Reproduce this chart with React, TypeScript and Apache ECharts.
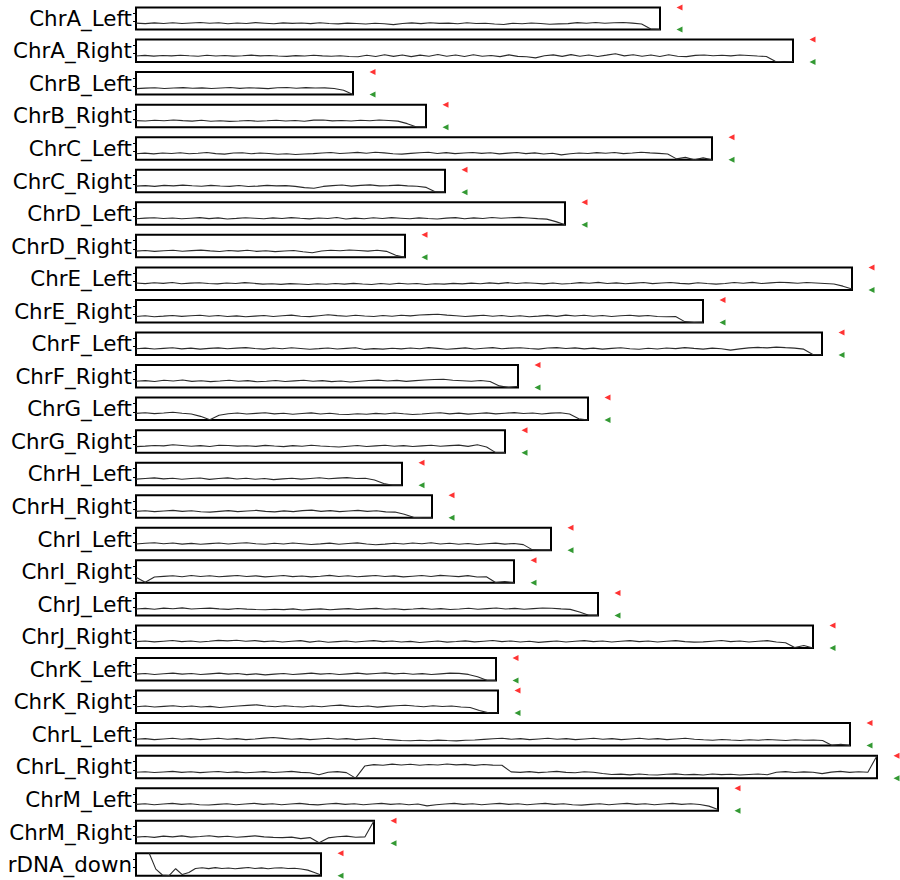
import React, { useEffect, useRef } from "react";
import * as echarts from "echarts";

// Row labels (top to bottom)
const labels = [
  "ChrA_Left", "ChrA_Right", "ChrB_Left", "ChrB_Right", "ChrC_Left", "ChrC_Right",
  "ChrD_Left", "ChrD_Right", "ChrE_Left", "ChrE_Right", "ChrF_Left", "ChrF_Right",
  "ChrG_Left", "ChrG_Right", "ChrH_Left", "ChrH_Right", "ChrI_Left", "ChrI_Right",
  "ChrJ_Left", "ChrJ_Right", "ChrK_Left", "ChrK_Right", "ChrL_Left", "ChrL_Right",
  "ChrM_Left", "ChrM_Right", "rDNA_down",
];

// Length of each region (kb, drawn 1 px per kb)
const lengths = [
  524, 657, 217, 290, 576, 309, 429, 269, 716, 567, 686, 382, 452, 369,
  266, 296, 415, 378, 462, 677, 360, 362, 714, 741, 582, 238, 185,
];

// Traces: signal values x100, evenly spaced along each region (null = no data)
const tA_L = [-22,-28,-19,-26,-17,-27,-21,-15,-24,-18,-29,-20,-26,-16,-23,-30,-19,-25,-21,-28,-18,-27,-31,-22,-26,-33,-24,-29,-40,-27,-19,-28,-17,-25,-22,-30,-18,-26,-23,-33,-38,-24,-29,-20,-27,-36,-31,-28,-16,-24,-14,-23,-18,-15,-22,-32,-95,-100];
const tA_R = [-27,-20,-29,-22,-26,-18,-25,-30,-19,-27,-22,-29,-24,-17,-26,-21,-28,-32,-23,-27,-19,-26,-31,-24,-34,-36,-18,-33,-12,-32,-15,-35,-17,-31,-10,-30,-16,-34,-13,-31,-22,-35,-14,-32,-37,-50,-24,-14,-32,-11,-30,-15,-33,-17,0,-26,-13,-31,-16,-34,-12,-30,-35,-20,-16,-24,-18,-26,-15,-21,-28,-34,-90,-100,-94];
const tB_L = [-28,-22,-18,-26,-20,-16,-24,-19,-27,-21,-15,-25,-18,-22,-28,-17,-14,-23,-16,-21,-19,-26,-48,-100];
const tB_R = [-22,-26,-17,-24,-14,-22,-28,-18,-30,-23,-31,-26,-20,-29,-24,-17,-27,-21,-29,-16,-15,-25,-20,-27,-18,-24,-14,-21,-28,-58,-98,-100];
const tC_L = [-28,-21,-30,-19,-26,-16,-29,-22,-14,-27,-33,-20,-17,-29,-19,-26,-34,-28,-37,-31,-27,-20,-14,-26,-19,-12,-23,-11,-18,-29,-33,-24,-16,-10,-25,-15,-27,-20,-13,-24,-17,-30,-21,-14,-27,-18,-31,-22,-42,-28,-19,-26,-15,-23,-14,-27,-20,-11,-18,-24,-32,-90,-72,-100,-78,-100];
const tC_R = [-27,-20,-29,-17,-24,-14,-22,-28,-18,-25,-30,-19,-31,-26,-17,-24,-21,-29,-44,-52,-30,-21,-13,-27,-17,-12,-24,-20,-14,-23,-28,-42,-96,-100];
const tD_L = [-27,-20,-15,-25,-18,-28,-21,-14,-26,-17,-30,-23,-15,-21,-28,-17,-24,-14,-22,-29,-18,-25,-13,-31,-20,-27,-16,-24,-14,-21,-28,-17,-25,-30,-20,-14,-27,-17,-24,-12,-21,-15,-11,-18,-26,-32,-62,-100];
const tD_R = [-25,-18,-28,-21,-14,-26,-19,-13,-22,-29,-17,-25,-15,-28,-20,-31,-24,-17,-33,-45,-24,-14,-21,-11,-18,-25,-15,-28,-75,-100];
const tE_L = [-18,-25,-15,-22,-12,-26,-19,-14,-23,-28,-17,-24,-13,-21,-31,-27,-34,-25,-30,-36,-26,-33,-24,-31,-22,-29,-35,-23,-32,-20,-29,-24,-35,-26,-31,-22,-28,-19,-27,-16,-25,-13,-23,-14,-21,-28,-17,-29,-24,-13,-21,-10,-24,-16,-27,-19,-12,-25,-17,-11,-22,-28,-15,-24,-31,-23,-12,-20,-10,-24,-16,-9,-13,-20,-11,-17,-23,-30,-55,-90];
const tE_R = [-28,-20,-31,-24,-16,-27,-19,-13,-25,-17,-29,-21,-32,-24,-16,-28,-20,-12,-25,-30,-19,-8,-18,-26,-14,-22,-29,-17,-25,-13,-21,-11,-6,-2,-12,-19,-28,-21,-14,-26,-17,-29,-20,-32,-24,-15,-27,-12,-22,-14,-25,-17,-29,-20,-13,-24,-16,-28,-31,-29,-90,-100,-97];
const tF_L = [-25,-17,-28,-20,-13,-26,-18,-29,-21,-14,-25,-17,-11,-22,-29,-16,-25,-13,-22,-31,-24,-16,-28,-20,-13,-33,-24,-30,-19,-27,-16,-25,-12,-21,-31,-23,-15,-28,-19,-11,-25,-17,-13,-22,-29,-16,-11,-22,-14,-26,-17,-29,-20,-13,-25,-31,-19,-28,-16,-24,-12,-21,-29,-17,-25,-42,-27,-15,-9,-14,-6,-12,-17,-30,-95,-100];
const tF_R = [-25,-17,-28,-13,-22,-10,-26,-18,-29,-21,-12,-25,-17,-31,-24,-16,-28,-20,-13,-25,-17,-29,-21,-33,-24,-16,-11,-22,-14,-26,-17,-10,-4,0,-12,-18,-25,-15,-27,-80,-100,-85];
const tG_L = [-19,-12,-22,-15,-6,-17,-26,-55,-95,-42,-24,-15,-27,-19,-12,-25,-17,-29,-20,-13,-26,-17,-29,-33,-24,-30,-19,-27,-15,-24,-32,-26,-18,-12,-25,-16,-28,-20,-13,-25,-17,-10,-21,-14,-26,-16,-11,-27,-85,-100];
const tG_R = [-28,-22,-15,-19,-5,-14,-24,-16,-27,-11,-15,-22,-17,-25,-13,-21,-28,-16,-24,-12,-20,-27,-33,-23,-15,-26,-19,-12,-24,-16,-27,-19,-11,-23,-16,-10,-25,-6,-32,-100,-100];
const tH_L = [-27,-19,-12,-24,-16,-28,-20,-13,-30,-19,-12,-25,-17,-28,-20,-33,-24,-16,-27,-19,-11,-23,-15,-9,-20,-17,-38,-80,-100,-100];
const tH_R = [-24,-16,-27,-19,-11,-24,-16,-28,-32,-23,-15,-27,-19,-12,-24,-30,-18,-27,-15,-9,-23,-15,-27,-19,-12,-24,-16,-29,-32,-58,-95,-100,-100];
const tI_L = [-25,-16,-10,-22,-13,-26,-17,-28,-20,-12,-25,-16,-9,-21,-28,-15,-24,-12,-21,-30,-23,-14,-27,-19,-11,-24,-33,-26,-16,-24,-13,-21,-10,-24,-15,-27,-19,-30,-22,-14,-26,-18,-32,-95,-100,-100];
const tI_R = [-32,-92,-30,-22,-14,-26,-12,-23,-15,-27,-19,-11,-24,-16,-28,-20,-12,-25,-17,-28,-20,-10,-23,-15,-27,-19,-11,-24,-16,-28,-20,-12,-24,-10,-17,-25,-13,-29,-27,-95,-85,-100];
const tJ_L = [-24,-16,-27,-13,-21,-10,-24,-17,-13,-22,-28,-17,-25,-30,-33,-26,-31,-22,-35,-28,-22,-32,-25,-19,-29,-22,-16,-27,-20,-31,-24,-16,-27,-19,-30,-23,-15,-27,-19,-12,-24,-16,-27,-19,-11,-14,-22,-28,-60,-98,-100];
const tJ_R = [-24,-16,-27,-19,-11,-24,-16,-28,-20,-9,-15,-7,-19,-12,-24,-16,-28,-20,-12,-30,-17,-32,-24,-16,-28,-20,-12,-24,-16,-28,-21,-34,-25,-17,-30,-23,-15,-27,-19,-11,-24,-16,-28,-20,-33,-24,-16,-28,-20,-12,-24,-16,-28,-20,-12,-24,-16,-28,-20,-12,-24,-30,-27,-19,-11,-24,-16,-28,-20,-12,-28,-38,-95,-70,-100];
const tK_L = [-24,-16,-28,-19,-11,-24,-16,-28,-20,-12,-24,-16,-29,-20,-33,-24,-16,-28,-20,-12,-24,-16,-28,-20,-12,-24,-16,-9,-21,-13,-25,-17,-28,-20,-12,-15,-27,-55,-98,-100];
const tK_R = [-24,-16,-28,-20,-12,-24,-16,-28,-20,-33,-24,-15,-8,-2,-15,-24,-13,-21,-28,-16,-25,-12,-5,-17,-25,-16,-29,-20,-12,-6,-16,-25,-13,-21,-16,-27,-33,-70,-98,-100];
const tL_L = [-24,-16,-28,-20,-12,-24,-16,-28,-20,-12,-24,-16,-28,-20,-10,-3,-13,-24,-16,-28,-20,-12,-24,-16,-28,-20,-12,-24,-31,-38,-42,-35,-41,-34,-39,-43,-36,-33,-25,-18,-12,-24,-16,-28,-20,-12,-24,-16,-28,-20,-12,-24,-16,-28,-20,-12,-24,-16,-28,-20,-12,-24,-30,-35,-27,-33,-38,-29,-36,-27,-33,-39,-30,-36,-33,-38,-95,-85,-100];
const tL_R = [-30,-23,-33,-26,-19,-31,-24,-34,-27,-20,-32,-25,-36,-29,-22,-33,-26,-19,-31,-36,-60,-30,-22,-34,-100,45,62,55,68,58,66,54,64,57,69,59,65,53,63,56,55,-25,-31,-22,-34,-27,-19,-31,-36,-24,-30,-45,-57,-52,-61,-50,-59,-63,-53,-49,-60,-55,-62,-51,-58,-53,-63,-56,-50,-59,-30,-22,-33,-25,-30,-46,-28,-19,-31,-24,-29,170];
const tM_L = [-24,-16,-28,-20,-12,-24,-16,-28,-32,-24,-16,-28,-20,-12,-24,-16,-28,-20,-12,-24,-30,-20,-12,-24,-16,-28,-20,-12,-24,-16,-28,-20,-42,-28,-20,-12,-24,-16,-28,-20,-12,-24,-16,-28,-20,-12,-24,-16,-28,-33,-24,-16,-28,-20,-12,-24,-16,-28,-20,-12,-24,-16,-26,-45,-85];
const tM_R = [-27,-19,-30,-15,-24,-12,-27,-19,-10,-24,-16,-28,-20,-12,-24,-29,-33,-26,-45,-32,-95,-36,-22,-14,-28,-24,170];
const tRDNA = [null,null,170,-20,-90,-97,-15,-85,-60,-12,-4,-14,-2,-13,-6,-16,-8,-1,-12,-5,-15,-7,-3,-12,-10,-18,-32,-60,-90];

const traces: (number | null)[][] = [
  tA_L, tA_R, tB_L, tB_R, tC_L, tC_R, tD_L, tD_R, tE_L, tE_R, tF_L, tF_R,
  tG_L, tG_R, tH_L, tH_R, tI_L, tI_R, tJ_L, tJ_R, tK_L, tK_R, tL_L, tL_R,
  tM_L, tM_R, tRDNA,
];

const Y_MIN = -1;
const Y_MAX = 1.7;
const Y_TICKS = [0, 1];

// layout
const LEFT = 136;
const TOP0 = 7;
const PITCH = 32.55;
const BOX_H = 22.5;
const MARK_OFFSET = 19.5;

export default function App() {
  const ref = useRef<HTMLDivElement>(null);

  useEffect(() => {
    if (!ref.current) return;
    const chart = echarts.init(ref.current, null, { renderer: "svg" });

    const grid: any[] = [];
    const xAxis: any[] = [];
    const yAxis: any[] = [];
    const series: any[] = [];

    labels.forEach((name, i) => {
      const len = lengths[i];
      grid.push({
        left: LEFT,
        top: TOP0 + i * PITCH,
        width: len,
        height: BOX_H,
        show: true,
        borderColor: "#000",
        borderWidth: 2,
        backgroundColor: "transparent",
        containLabel: false,
      });
      xAxis.push({
        gridIndex: i,
        type: "value",
        min: 0,
        max: len,
        show: false,
      });
      yAxis.push({
        gridIndex: i,
        type: "value",
        min: Y_MIN,
        max: Y_MAX,
        axisLine: { show: false },
        axisTick: {
          show: true,
          length: 3,
          customValues: Y_TICKS,
          lineStyle: { color: "#000", width: 1 },
        },
        axisLabel: { show: false },
        splitLine: { show: false },
        name,
        nameLocation: "middle",
        nameRotate: 0,
        nameGap: 4,
        nameTextStyle: {
          fontSize: 21.4,
          color: "#000",
          fontFamily: "DejaVu Sans",
          align: "right",
          verticalAlign: "middle",
        },
      });
      const tr = traces[i];
      const n = tr.length;
      series.push({
        type: "line",
        xAxisIndex: i,
        yAxisIndex: i,
        symbol: "none",
        showSymbol: false,
        connectNulls: false,
        lineStyle: { color: "#2b2b2b", width: 1.1 },
        data: tr.map((v, k) => [(k * len) / (n - 1), v === null ? null : v / 100]),
        z: 2,
      });
      series.push({
        type: "scatter",
        xAxisIndex: i,
        yAxisIndex: i,
        clip: false,
        symbol: "triangle",
        symbolRotate: 90,
        symbolSize: [6, 6],
        data: [
          { value: [len + MARK_OFFSET, Y_MAX], itemStyle: { color: "#ff0000" } },
          { value: [len + MARK_OFFSET, Y_MIN], itemStyle: { color: "#008000" } },
        ],
        z: 3,
      });
    });

    chart.setOption({
      animation: false,
      backgroundColor: "#fff",
      grid,
      xAxis,
      yAxis,
      series,
    });

    return () => chart.dispose();
  }, []);

  return (
    <div
      ref={ref}
      style={{ position: "fixed", left: 0, top: 0, width: 900, height: 880 }}
    />
  );
}
